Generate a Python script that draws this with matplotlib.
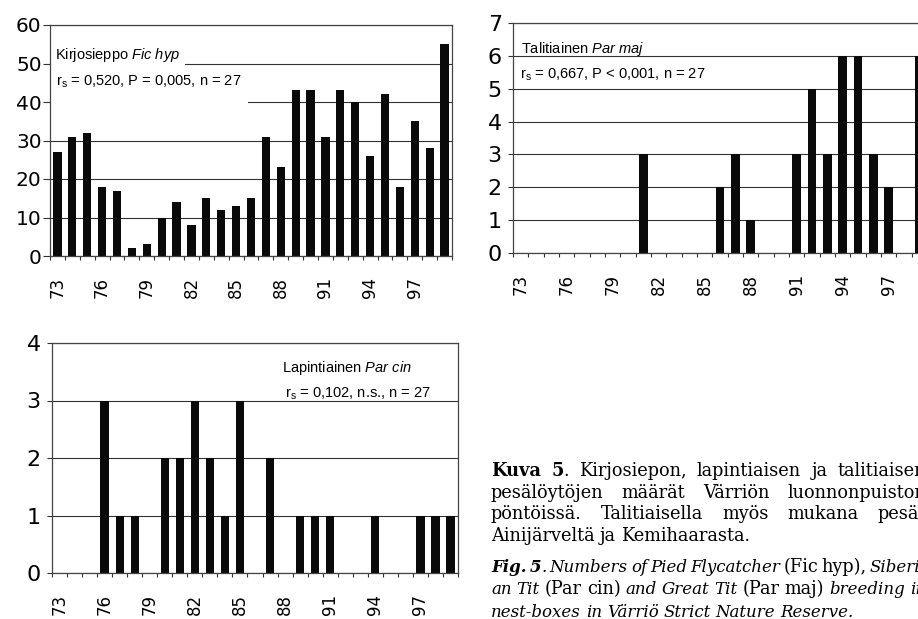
import matplotlib

matplotlib.use("Agg")
import matplotlib.pyplot as plt
from matplotlib.patches import Rectangle
from matplotlib.ticker import MultipleLocator

W, H = 918, 619

years = list(range(1973, 2000))
year_labels = [str(y % 100) for y in years]

fic_hyp = [27, 31, 32, 18, 17, 2, 3, 10, 14, 8, 15, 12, 13, 15, 31, 23,
           43, 43, 31, 43, 40, 26, 42, 18, 35, 28, 55]
par_maj = [0, 0, 0, 0, 0, 0, 0, 0, 3, 0, 0, 0, 0, 2, 3, 1,
           0, 0, 3, 5, 3, 6, 6, 3, 2, 0, 6]
par_cin = [0, 0, 0, 3, 1, 1, 0, 2, 2, 3, 2, 1, 3, 0, 2, 0,
           1, 1, 1, 0, 0, 1, 0, 0, 1, 1, 1]

plt.rcParams["font.family"] = ["DejaVu Sans"]
plt.rcParams["mathtext.fontset"] = "custom"
plt.rcParams["mathtext.rm"] = "Liberation Sans"
plt.rcParams["mathtext.it"] = "Liberation Sans:italic"

fig = plt.figure(figsize=(W / 100, H / 100), dpi=100, facecolor="white")


def px_axes(left, top, right, bottom):
    return fig.add_axes([left / W, 1 - bottom / H, (right - left) / W, (bottom - top) / H])


def fx(px):
    return px / W


def fy(py):
    return 1 - py / H


def setup_panel(ax, values, ymax, ystep, ysize, ylen, ypad):
    x = range(len(values))
    ax.bar(x, values, width=0.55, color="#0a0a0a", zorder=3)
    ax.set_xlim(-0.5, len(values) - 0.5)
    ax.set_ylim(0, ymax)
    ax.yaxis.set_major_locator(MultipleLocator(ystep))
    ax.set_xticks(range(0, len(values), 3))
    ax.set_xticklabels(year_labels[::3], rotation=90, fontsize=12)
    ax.set_xticks([i - 0.5 for i in range(len(values) + 1)], minor=True)
    ax.tick_params(axis="x", which="major", length=0, pad=15)
    ax.tick_params(axis="x", which="minor", length=3, width=0.8, color="#333")
    ax.tick_params(axis="y", length=ylen, width=0.8, pad=ypad, labelsize=ysize, color="#333")
    ax.grid(axis="y", color="#333", lw=0.8)
    ax.set_axisbelow(True)
    for spine in ax.spines.values():
        spine.set_edgecolor("#444")
        spine.set_linewidth(0.9)
        spine.set_zorder(6)


def panel_text(ax, px, py, s):
    ax.text(fx(px), fy(py), s, transform=fig.transFigure, fontsize=10.5,
            family="Liberation Sans", va="baseline", ha="left", zorder=5)


# Kirjosieppo
ax1 = px_axes(50, 25, 452, 256)
setup_panel(ax1, fic_hyp, 60, 10, 14.5, 5, 1)
for x0, y0, x1, y1 in [(50, 40, 185, 66), (50, 68, 248, 104)]:
    ax1.add_patch(Rectangle((fx(x0), fy(y1)), (x1 - x0) / W, (y1 - y0) / H,
                            transform=fig.transFigure, facecolor="white",
                            edgecolor="none", zorder=1.5))
panel_text(ax1, 55, 59, r"Kirjosieppo $\mathit{Fic\ hyp}$")
panel_text(ax1, 56, 86, r"r$_\mathrm{s}$ = 0,520, P = 0,005, n = 27")

# Talitiainen
ax2 = px_axes(513, 23, 927, 253)
setup_panel(ax2, par_maj, 7, 1, 16, 3.6, 4.5)
panel_text(ax2, 521, 53, r"Talitiainen $\mathit{Par\ maj}$")
panel_text(ax2, 520, 79, r"r$_\mathrm{s}$ = 0,667, P < 0,001, n = 27")

# Lapintiainen
ax3 = px_axes(52, 343, 458, 573)
setup_panel(ax3, par_cin, 4, 1, 16, 3.6, 4.5)
panel_text(ax3, 282, 372, r"Lapintiainen $\mathit{Par\ cin}$")
panel_text(ax3, 285, 398, r"r$_\mathrm{s}$ = 0,102, n.s., n = 27")

# caption (justified, clipped at the right edge like the scan)
CAP_SIZE = 12.8
CAP_LEFT, CAP_RIGHT = 491, 926
STYLES = {"r": ("normal", "normal", 12.8), "b": ("bold", "normal", 12.8),
          "i": ("normal", "italic", 12.0), "bi": ("bold", "italic", 12.0)}


def words(s, st):
    return [[(w, st)] for w in s.split()]


def caption_line(y_px, line_words, justify):
    renderer = fig.canvas.get_renderer()
    items, widths = [], []
    for word in line_words:
        pieces, total = [], 0
        for txt, st in word:
            weight, style, size = STYLES[st]
            t = fig.text(0, fy(y_px), txt, fontsize=size, family="DejaVu Serif",
                         fontweight=weight, fontstyle=style, va="baseline", ha="left")
            tw = t.get_window_extent(renderer).width
            pieces.append((t, tw))
            total += tw
        items.append(pieces)
        widths.append(total)
    gap = 0.28 * CAP_SIZE * 100 / 72
    if justify:
        gap = max(3, (CAP_RIGHT - CAP_LEFT - sum(widths)) / (len(line_words) - 1))
    x = CAP_LEFT
    for pieces in items:
        for t, tw in pieces:
            t.set_x(fx(x))
            x += tw
        x += gap


caption_line(476, [[("Kuva", "b")], [("5", "b"), (".", "r")]]
             + words("Kirjosiepon, lapintiaisen ja talitiaisen", "r"), True)
caption_line(497.5, words("pesälöytöjen määrät Värriön luonnonpuiston", "r"), True)
caption_line(519, words("pöntöissä. Talitiaisella myös mukana pesät", "r"), True)
caption_line(541, words("Ainijärveltä ja Kemihaarasta.", "r"), False)
caption_line(572, [[("Fig.", "bi")], [("5", "bi"), (".", "i")]]
             + words("Numbers of Pied Flycatcher", "i")
             + [[("(Fic", "r")], [("hyp),", "r")]]
             + words("Siberi-", "i"), True)
caption_line(594, words("an Tit", "i") + [[("(Par", "r")], [("cin)", "r")]]
             + words("and Great Tit", "i") + [[("(Par", "r")], [("maj)", "r")]]
             + words("breeding in", "i"), True)
caption_line(617, words("nest-boxes in Värriö Strict Nature Reserve.", "i"), False)

fig.savefig("out.png", dpi=100, facecolor="white")
